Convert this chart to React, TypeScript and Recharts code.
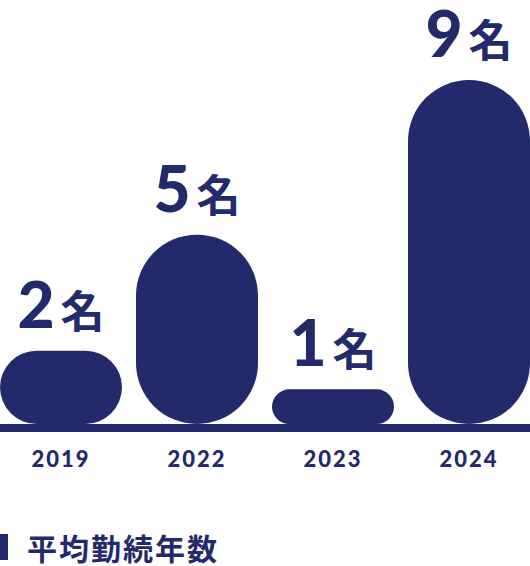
import { Bar, BarChart, LabelList, Legend, XAxis, YAxis } from 'recharts'

const years = ['2019', '2022', '2023', '2024']
const counts = [2, 5, 1, 9]
const unit = '名'
const legendLabel = '平均勤続年数'

const navy = '#222a6b'
const latin = 'Lato, "Noto Sans", sans-serif'
const cjk = '"Noto Sans CJK JP", "Noto Sans", sans-serif'

const data = years.map((year, i) => ({ year, count: counts[i] }))

// rounded pill bar, stops just above the thick base line
function PillBar(props: any) {
  const { x, y, width, height, fill } = props
  const h = height - 4
  if (h <= 0) return null
  const r = Math.min(width / 2, h / 2)
  const d = `M${x + r},${y} H${x + width - r} A${r},${r} 0 0 1 ${x + width},${y + r} V${y + h - r} A${r},${r} 0 0 1 ${x + width - r},${y + h} H${x + r} A${r},${r} 0 0 1 ${x},${y + h - r} V${y + r} A${r},${r} 0 0 1 ${x + r},${y} Z`
  return <path d={d} fill={fill} />
}

function CountLabel(props: any) {
  const { x, y, width, value } = props
  return (
    <text x={x + width / 2} y={y - 23} textAnchor="middle" fill={navy}>
      <tspan fontFamily={latin} fontSize={64} fontWeight={900}>
        {value}
      </tspan>
      <tspan dx={6} fontFamily={cjk} fontSize={44} fontWeight={700}>
        {unit}
      </tspan>
    </text>
  )
}

function YearTick(props: any) {
  const { x, y, payload } = props
  return (
    <text
      x={x}
      y={y}
      dy={31}
      textAnchor="middle"
      fill={navy}
      fontFamily={latin}
      fontSize={22}
      fontWeight={900}
      letterSpacing={2}
    >
      {payload.value}
    </text>
  )
}

function LegendBox() {
  return (
    <div style={{ display: 'flex', alignItems: 'center', height: 36 }}>
      <span style={{ width: 8, height: 26, background: navy, display: 'inline-block', flexShrink: 0 }} />
      <span
        style={{
          marginLeft: 19,
          fontFamily: cjk,
          fontSize: 30,
          fontWeight: 700,
          letterSpacing: 2,
          color: navy,
          lineHeight: 1,
          whiteSpace: 'nowrap',
        }}
      >
        {legendLabel}
      </span>
    </div>
  )
}

export default function App() {
  return (
    <div style={{ width: 530, height: 566, background: '#fff' }}>
      <style>{'body{margin:0}'}</style>
      <BarChart width={530} height={566} data={data} margin={{ top: 80, right: -7, left: -7, bottom: 108 }} barSize={122}>
        <XAxis
          dataKey="year"
          axisLine={{ stroke: navy, strokeWidth: 8 }}
          tickLine={false}
          tick={<YearTick />}
          interval={0}
        />
        <YAxis hide domain={[0, 9]} />
        <Legend
          layout="horizontal"
          verticalAlign="middle"
          align="center"
          content={<LegendBox />}
          wrapperStyle={{ position: 'absolute', left: 0, top: 529, width: 400 }}
        />
        <Bar dataKey="count" fill={navy} shape={<PillBar />} isAnimationActive={false}>
          <LabelList dataKey="count" content={<CountLabel />} />
        </Bar>
      </BarChart>
    </div>
  )
}
